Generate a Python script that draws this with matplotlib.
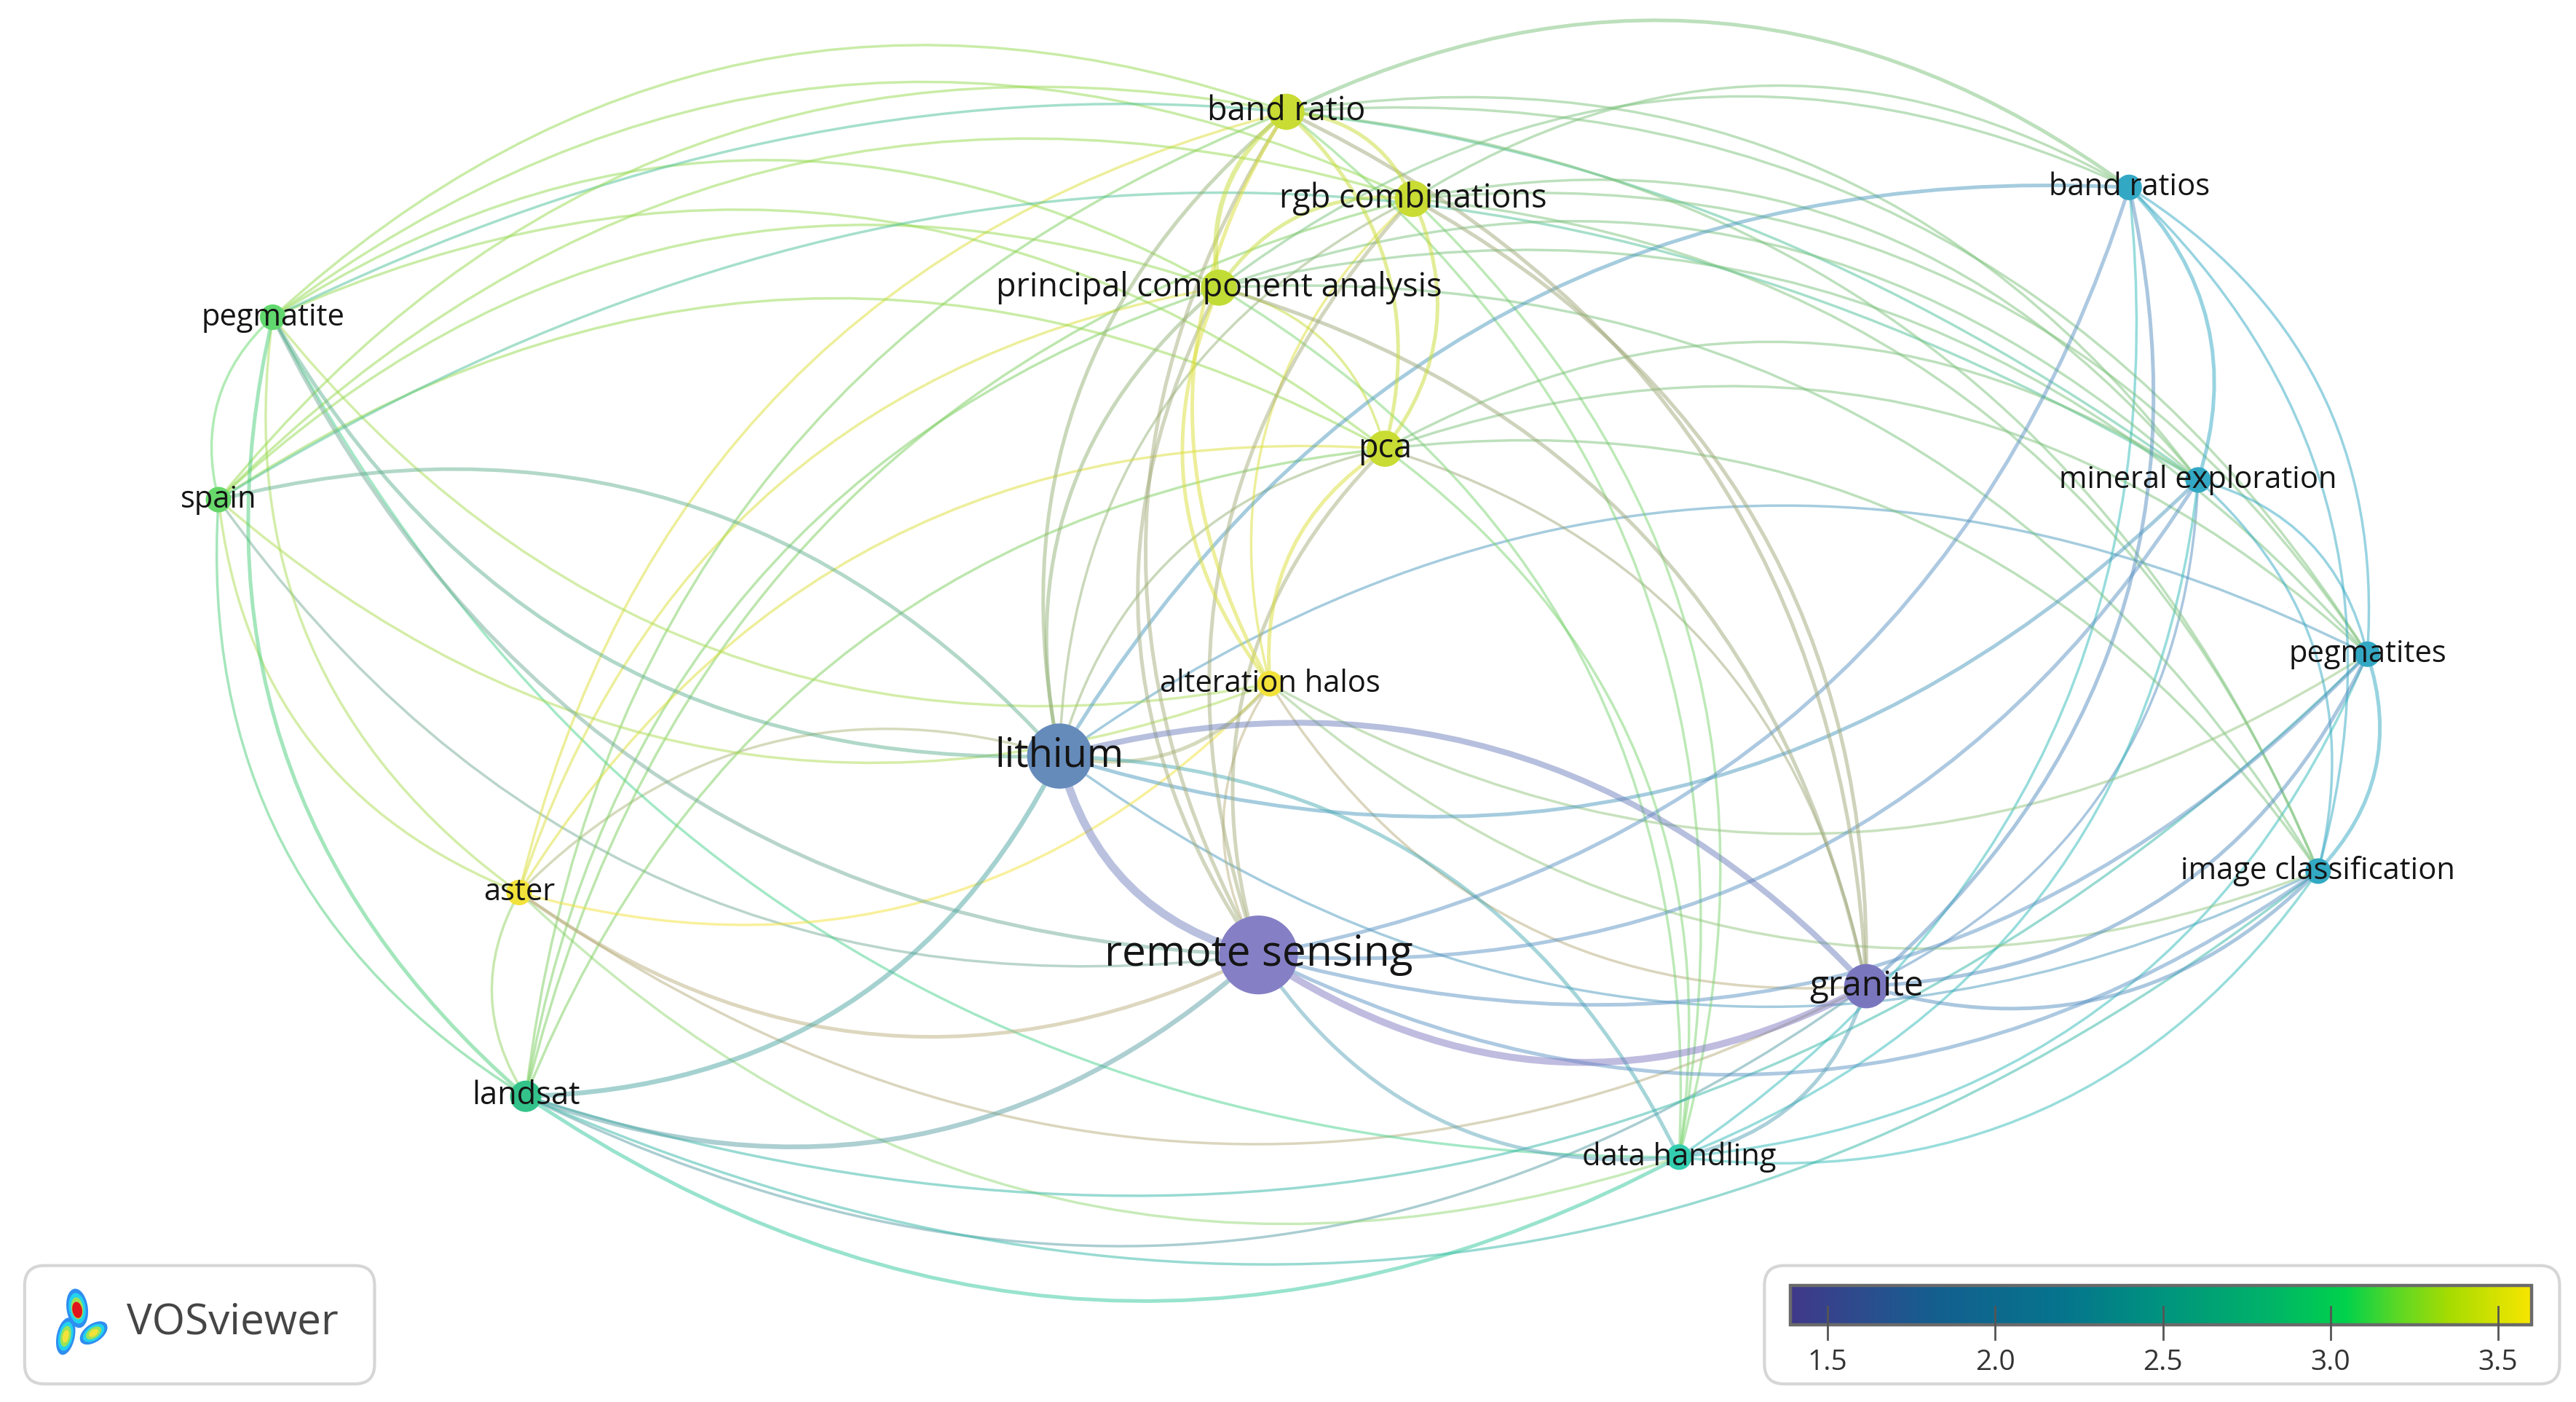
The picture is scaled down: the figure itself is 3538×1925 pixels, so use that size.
import numpy as np
import matplotlib
matplotlib.use("Agg")
import matplotlib.pyplot as plt
from matplotlib.path import Path
from matplotlib.patches import PathPatch, Circle, FancyBboxPatch, Ellipse, Rectangle
from matplotlib.colors import LinearSegmentedColormap, Normalize, to_rgb

# keyword map (VOSviewer overlay), coordinates
keys = ["LI", "RS", "GR", "BR", "RGB", "PCAF", "PCA", "AH", "PEG", "SP",
        "AS", "LS", "DH", "BRS", "ME", "PEGS", "IC"]
labels = ["lithium", "remote sensing", "granite", "band ratio", "rgb combinations",
          "principal component analysis", "pca", "alteration halos", "pegmatite",
          "spain", "aster", "landsat", "data handling", "band ratios",
          "mineral exploration", "pegmatites", "image classification"]
map_x = [645, 766, 1136, 783, 860, 742, 843, 773, 166, 133, 316, 320, 1022,
         1296, 1338, 1441, 1411]
map_y = [460, 581, 600, 68, 121, 175, 273, 416, 193, 304, 543, 667, 704,
         114, 292, 398, 530]
score = [1.75, 1.42, 1.55, 3.4, 3.4, 3.38, 3.4, 3.6, 3.1, 3.12, 3.6, 2.8, 2.62,
         2.3, 2.3, 2.3, 2.32]
occurrences = [13, 19, 6, 4, 4, 4, 4, 2, 2, 2, 2, 3, 2, 2, 2, 2, 2]

links = [
    ("LI", "RS", 6), ("LI", "GR", 4), ("LI", "LS", 3), ("LI", "SP", 2), ("LI", "PEG", 2),
    ("LI", "BR", 2), ("LI", "PCAF", 2), ("LI", "PCA", 1), ("LI", "RGB", 1), ("LI", "AH", 2),
    ("LI", "AS", 1), ("LI", "ME", 2), ("LI", "BRS", 2), ("LI", "PEGS", 1), ("LI", "IC", 1),
    ("LI", "DH", 2),
    ("RS", "GR", 5), ("RS", "LS", 3), ("RS", "AS", 2), ("RS", "PEG", 2), ("RS", "SP", 1),
    ("RS", "BR", 2), ("RS", "PCAF", 2), ("RS", "PCA", 2), ("RS", "RGB", 2), ("RS", "AH", 1),
    ("RS", "BRS", 2), ("RS", "ME", 2), ("RS", "PEGS", 2), ("RS", "IC", 2), ("RS", "DH", 2),
    ("GR", "BR", 2), ("GR", "RGB", 2), ("GR", "PCAF", 2), ("GR", "PCA", 1), ("GR", "BRS", 2),
    ("GR", "ME", 1), ("GR", "PEGS", 2), ("GR", "IC", 2), ("GR", "DH", 2), ("GR", "LS", 1),
    ("GR", "AS", 1), ("GR", "AH", 1),
    ("DH", "LS", 2), ("DH", "IC", 1), ("DH", "PEGS", 1), ("DH", "ME", 1), ("DH", "BRS", 1),
    ("DH", "PCA", 1), ("DH", "BR", 1), ("DH", "PCAF", 1), ("DH", "RGB", 1), ("DH", "PEG", 1),
    ("DH", "AS", 1),
    ("LS", "PEG", 2), ("LS", "SP", 1), ("LS", "AS", 1), ("LS", "BR", 1), ("LS", "PCAF", 1),
    ("LS", "RGB", 1), ("LS", "PCA", 1), ("LS", "IC", 1), ("LS", "PEGS", 1),
    ("AS", "PEG", 1), ("AS", "SP", 1), ("AS", "BR", 1), ("AS", "PCAF", 1), ("AS", "PCA", 1),
    ("AS", "AH", 1),
    ("PEG", "SP", 1), ("PEG", "BR", 1), ("PEG", "RGB", 1), ("PEG", "PCAF", 1), ("PEG", "PCA", 1),
    ("PEG", "AH", 1), ("PEG", "ME", 1),
    ("SP", "BR", 1), ("SP", "RGB", 1), ("SP", "PCAF", 1), ("SP", "PCA", 1), ("SP", "AH", 1),
    ("SP", "ME", 1),
    ("BR", "RGB", 2), ("BR", "PCAF", 3), ("BR", "PCA", 2), ("BR", "AH", 2), ("RGB", "PCAF", 2),
    ("RGB", "PCA", 2), ("RGB", "AH", 1), ("PCAF", "PCA", 1), ("PCAF", "AH", 2), ("PCA", "AH", 2),
    ("BR", "BRS", 2), ("BR", "ME", 1), ("BR", "PEGS", 1), ("BR", "IC", 1),
    ("RGB", "BRS", 1), ("RGB", "ME", 1), ("RGB", "PEGS", 1), ("RGB", "IC", 1),
    ("PCAF", "BRS", 1), ("PCAF", "ME", 1), ("PCAF", "PEGS", 1), ("PCAF", "IC", 1),
    ("PCA", "ME", 1), ("PCA", "PEGS", 1), ("PCA", "IC", 1), ("AH", "PEGS", 1), ("AH", "IC", 1),
    ("BRS", "ME", 2), ("BRS", "PEGS", 1), ("BRS", "IC", 1), ("ME", "PEGS", 1), ("ME", "IC", 1),
    ("PEGS", "IC", 2),
]
# links that bend towards the middle of the map instead of away from it
bend_inward = [("LI", "GR"), ("LI", "SP"), ("LI", "AS"), ("LI", "LS"), ("LI", "PEGS"), ("LI", "DH")]

cbar_ticks = [1.5, 2.0, 2.5, 3.0, 3.5]
cbar_lo, cbar_hi = 1.39, 3.6

W, H = 1568, 853

# node colours (drawn a little lighter than the legend bar, as VOSviewer does)
cmap = LinearSegmentedColormap.from_list("vos", [
    (0.00, "#6a62b8"), (0.08, "#5652ad"), (0.16, "#3f6eaa"), (0.41, "#0092b5"),
    (0.55, "#00c2a0"), (0.64, "#00b46c"), (0.77, "#33ce4c"), (0.91, "#bad300"),
    (1.00, "#efdb09")])
bar_cmap = LinearSegmentedColormap.from_list("vosbar", [
    (0.00, "#40398a"), (0.10, "#2c4d8e"), (0.20, "#13608f"), (0.37, "#06758d"),
    (0.50, "#00937f"), (0.64, "#00b26a"), (0.75, "#00d24c"), (0.82, "#5cd826"),
    (0.89, "#a6dc02"), (1.00, "#f7e600")])
norm = Normalize(cbar_lo, cbar_hi)


def lighten(c, f):
    c = np.array(to_rgb(c))
    return tuple(c + (1 - c) * f)


node_col = [lighten(cmap(norm(s)), 0.2) for s in score]
pos = np.column_stack([map_x, map_y]).astype(float)
centre = pos.mean(axis=0)
idx = {k: i for i, k in enumerate(keys)}

fig = plt.figure(figsize=(3538 / 200, 1925 / 200), dpi=200)
ax = fig.add_axes([0, 0, 1, 1])
plt.rcParams['font.family'] = ['Open Sans', 'DejaVu Sans']

# links as curved lines
for a, b, w in sorted(links, key=lambda t: t[2]):
    i, j = idx[a], idx[b]
    p1, p2 = pos[i], pos[j]
    d = p2 - p1
    L = np.hypot(*d)
    n = np.array([d[1], -d[0]]) / L
    mid = (p1 + p2) / 2
    if np.dot(mid - centre, n) < 0:
        n = -n
    if (a, b) in bend_inward:
        n = -n
    ctrl = mid + n * 0.3 * L
    col = tuple((np.array(node_col[i]) + np.array(node_col[j])) / 2)
    path = Path([p1, ctrl, p2], [Path.MOVETO, Path.CURVE3, Path.CURVE3])
    ax.add_patch(PathPatch(path, fc="none", ec=col, lw=0.7 + 0.55 * w,
                           alpha=0.5, zorder=1, capstyle="round"))

# nodes and labels
for i in range(len(keys)):
    r = 5.5 * np.sqrt(occurrences[i])
    ax.add_patch(Circle(pos[i], r, fc=node_col[i], ec="none", zorder=3))
for i in range(len(keys)):
    ax.text(map_x[i], map_y[i], labels[i], ha="center", va="center",
            fontsize=12 + 2.1 * np.sqrt(occurrences[i]), color="#151515", zorder=4)

# VOSviewer logo box
ax.add_patch(FancyBboxPatch((15, 770), 213, 72, boxstyle="round,pad=0,rounding_size=12",
                            fc="white", ec="#d6d6d6", lw=1.5, zorder=5))
for (cx, cy, ew, eh, ang) in [(47, 796, 13, 24, -8), (40, 813, 11, 23, 12), (57, 811, 19, 11, -35)]:
    for k, c in enumerate(["#2f8ef0", "#22d3ee", "#9be25a", "#f2e23a"]):
        s = 1 - 0.22 * k
        ax.add_patch(Ellipse((cx, cy), ew * s, eh * s, angle=ang, fc=c, ec="none", zorder=6))
ax.add_patch(Ellipse((47, 797), 6, 10, angle=-10, fc="#e0151b", ec="none", zorder=7))
ax.text(77, 805, "VOSviewer", ha="left", va="center", fontsize=21, color="#454545", zorder=7)

# colour bar box
ax.add_patch(FancyBboxPatch((1074, 770), 484, 72, boxstyle="round,pad=0,rounding_size=12",
                            fc="white", ec="#d6d6d6", lw=1.5, zorder=5))
bx0, bx1, by0, by1 = 1090, 1541, 782, 806
grad = np.linspace(cbar_lo, cbar_hi, 512).reshape(1, -1)
ax.imshow(grad, extent=(bx0, bx1, by1, by0), cmap=bar_cmap, norm=norm, aspect="auto", zorder=6)
ax.add_patch(Rectangle((bx0, by0), bx1 - bx0, by1 - by0, fc="none", ec="#6a6a6a", lw=1.6, zorder=7))
for t in cbar_ticks:
    tx = bx0 + (t - cbar_lo) / (cbar_hi - cbar_lo) * (bx1 - bx0)
    ax.plot([tx, tx], [795, 815], color="#555555", lw=1.0, zorder=8)
    ax.text(tx, 829, f"{t:.1f}", ha="center", va="center", fontsize=14, color="#333333", zorder=8)

ax.set_xlim(0, W)
ax.set_ylim(H, 0)
ax.axis("off")
fig.savefig("out.png", dpi=200, facecolor="white")
